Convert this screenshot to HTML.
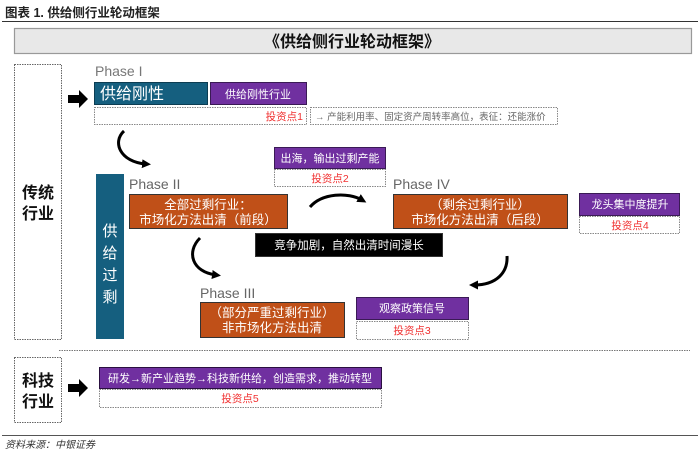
<!DOCTYPE html>
<html><head><meta charset="utf-8"><style>
body{margin:0;background:#fff}
svg{display:block}
text{font-family:"Liberation Sans","Noto Sans CJK SC",sans-serif}
</style></head><body>
<svg width="700" height="454" viewBox="0 0 700 454" xmlns="http://www.w3.org/2000/svg">
<defs>
<marker id="ah" markerWidth="10" markerHeight="10" refX="4" refY="5" orient="auto" markerUnits="userSpaceOnUse">
<path d="M0,0.5 L9,5 L0,9.5 z" fill="#000"/></marker>
</defs>
<text x="5" y="17" font-size="12.5" font-weight="bold" fill="#222" font-family="Noto Serif CJK SC,serif">图表 1. 供给侧行业轮动框架</text>
<line x1="2" y1="21.5" x2="698" y2="21.5" stroke="#333" stroke-width="1"/>
<rect x="14.5" y="28.5" width="677" height="25" fill="#e8e8e8" stroke="#999" stroke-width="1.2"/>
<text x="352" y="47" font-size="16" font-weight="bold" text-anchor="middle" fill="#111">《供给侧行业轮动框架》</text>

<rect x="14.5" y="64.5" width="47" height="275" fill="none" stroke="#666" stroke-dasharray="1.5,1"/>
<text x="38" y="198" font-size="16" font-weight="bold" text-anchor="middle" fill="#111">传统</text>
<text x="38" y="219" font-size="16" font-weight="bold" text-anchor="middle" fill="#111">行业</text>

<text x="95" y="76" font-size="14" fill="#777">Phase I</text>
<path d="M68,95 h11 v-5 l9,9 -9,9 v-5 h-11 z" fill="#000"/>
<rect x="94.5" y="82.5" width="113" height="22" fill="#155f7f" stroke="#0c3d52"/>
<text x="100" y="99" font-size="16" fill="#fff">供给刚性</text>
<rect x="210.5" y="82.5" width="96" height="22" fill="#7030a0" stroke="#3a1a55"/>
<text x="258" y="98" font-size="11" text-anchor="middle" fill="#fff">供给刚性行业</text>
<rect x="94.5" y="107.5" width="212" height="17" fill="#fff" stroke="#888" stroke-dasharray="1.5,1"/>
<text x="303" y="120" font-size="10.5" text-anchor="end" fill="#f03030">投资点1</text>
<rect x="310.5" y="107.5" width="247" height="17" fill="#fff" stroke="#888" stroke-dasharray="1.5,1"/>
<text x="315" y="120" font-size="9.5" fill="#666">→ 产能利用率、固定资产周转率高位，表征：还能涨价</text>

<path d="M124,131 C112,142 120,162 146,164" fill="none" stroke="#000" stroke-width="3" marker-end="url(#ah)"/>

<rect x="274.5" y="147.5" width="111" height="21" fill="#7030a0" stroke="#3a1a55"/>
<text x="330" y="162" font-size="11" text-anchor="middle" fill="#fff">出海，输出过剩产能</text>
<rect x="274.5" y="169.5" width="111" height="17" fill="#fff" stroke="#888" stroke-dasharray="1.5,1"/>
<text x="330" y="182" font-size="10.5" text-anchor="middle" fill="#f03030">投资点2</text>

<rect x="96" y="174" width="28" height="165" fill="#155f7f"/>
<text x="110" y="236" font-size="15" text-anchor="middle" fill="#fff">供</text>
<text x="110" y="258" font-size="15" text-anchor="middle" fill="#fff">给</text>
<text x="110" y="280" font-size="15" text-anchor="middle" fill="#fff">过</text>
<text x="110" y="302" font-size="15" text-anchor="middle" fill="#fff">剩</text>

<text x="129" y="189" font-size="14" fill="#666">Phase II</text>
<rect x="129.5" y="194.5" width="158" height="34" fill="#c05018" stroke="#333"/>
<text x="208" y="209" font-size="12.5" text-anchor="middle" fill="#fff">全部过剩行业：</text>
<text x="208" y="224" font-size="12.5" text-anchor="middle" fill="#fff">市场化方法出清（前段）</text>

<text x="393" y="189" font-size="14" fill="#666">Phase IV</text>
<rect x="393.5" y="194.5" width="174" height="34" fill="#c05018" stroke="#333"/>
<text x="480" y="209" font-size="12.5" text-anchor="middle" fill="#fff">（剩余过剩行业）</text>
<text x="480" y="224" font-size="12.5" text-anchor="middle" fill="#fff">市场化方法出清（后段）</text>

<rect x="579.5" y="193.5" width="100" height="22" fill="#7030a0" stroke="#3a1a55"/>
<text x="630" y="208" font-size="11" text-anchor="middle" fill="#fff">龙头集中度提升</text>
<rect x="579.5" y="216.5" width="100" height="17" fill="#fff" stroke="#888" stroke-dasharray="1.5,1"/>
<text x="630" y="229" font-size="10.5" text-anchor="middle" fill="#f03030">投资点4</text>

<path d="M310,207 C322,193 348,192 362,200" fill="none" stroke="#000" stroke-width="3" marker-end="url(#ah)"/>

<rect x="255.5" y="233.5" width="187" height="23" fill="#000" stroke="#333"/>
<text x="349" y="249" font-size="11.5" text-anchor="middle" fill="#fff">竞争加剧，自然出清时间漫长</text>

<path d="M200,238 C186,252 192,272 216,275" fill="none" stroke="#000" stroke-width="3" marker-end="url(#ah)"/>
<path d="M507,256 C508,272 497,285 474,285" fill="none" stroke="#000" stroke-width="3" marker-end="url(#ah)"/>

<text x="200" y="298" font-size="14" fill="#666">Phase III</text>
<rect x="200.5" y="302.5" width="144" height="35" fill="#c05018" stroke="#333"/>
<text x="272" y="317" font-size="12.5" text-anchor="middle" fill="#fff">（部分严重过剩行业）</text>
<text x="272" y="332" font-size="12.5" text-anchor="middle" fill="#fff">非市场化方法出清</text>

<rect x="356.5" y="297.5" width="112" height="22" fill="#7030a0" stroke="#3a1a55"/>
<text x="412" y="312" font-size="11" text-anchor="middle" fill="#fff">观察政策信号</text>
<rect x="356.5" y="321.5" width="112" height="18" fill="#fff" stroke="#888" stroke-dasharray="1.5,1"/>
<text x="412" y="334" font-size="10.5" text-anchor="middle" fill="#f03030">投资点3</text>

<line x1="59" y1="350.5" x2="690" y2="350.5" stroke="#777" stroke-dasharray="1.5,1"/>

<rect x="14.5" y="357.5" width="47" height="65" fill="none" stroke="#666" stroke-dasharray="1.5,1"/>
<text x="38" y="386" font-size="16" font-weight="bold" text-anchor="middle" fill="#111">科技</text>
<text x="38" y="407" font-size="16" font-weight="bold" text-anchor="middle" fill="#111">行业</text>
<path d="M68,384 h11 v-5 l9,9 -9,9 v-5 h-11 z" fill="#000"/>
<rect x="99.5" y="367.5" width="282" height="21" fill="#7030a0" stroke="#2a1040"/>
<text x="240" y="382" font-size="11" text-anchor="middle" fill="#fff">研发→新产业趋势→科技新供给，创造需求，推动转型</text>
<rect x="99.5" y="389.5" width="282" height="18" fill="#fff" stroke="#888" stroke-dasharray="1.5,1"/>
<text x="240" y="402" font-size="10.5" text-anchor="middle" fill="#f03030">投资点5</text>

<line x1="2" y1="435.5" x2="698" y2="435.5" stroke="#555" stroke-width="1"/>
<text x="5" y="448" font-size="10" font-style="italic" fill="#333" font-family="Noto Serif CJK SC,serif">资料来源：中银证券</text>
</svg>
</body></html>
